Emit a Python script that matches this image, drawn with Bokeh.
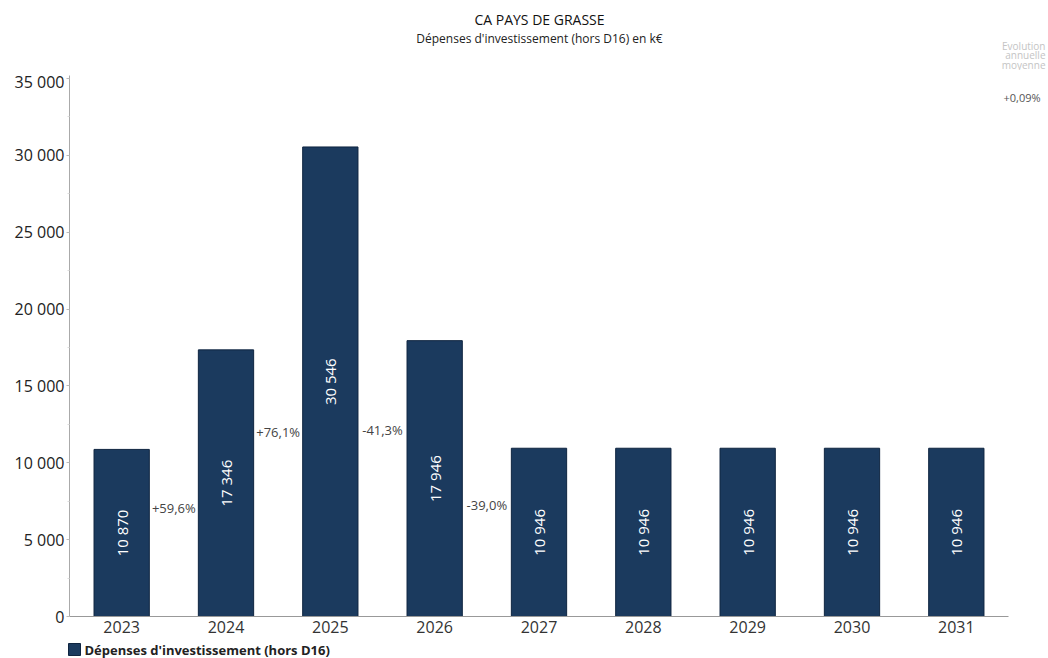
import math
from bokeh.plotting import figure
from bokeh.layouts import column
from bokeh.models import ColumnDataSource, FactorRange, Range1d, FixedTicker, LinearAxis
from bokeh.core.properties import value
from bokeh.embed import file_html
from bokeh.resources import INLINE

years = ["2023", "2024", "2025", "2026", "2027", "2028", "2029", "2030", "2031"]
depenses = [10870, 17346, 30546, 17946, 10946, 10946, 10946, 10946, 10946]
# year-on-year evolution labels as printed between bars (empty = not shown)
evolutions = ["+59,6%", "+76,1%", "-41,3%", "-39,0%", "", "", "", ""]
y_ticks = [0, 5000, 10000, 15000, 20000, 25000, 30000, 35000]
series_name = "Dépenses d'investissement (hors D16)"
title_text = "CA PAYS DE GRASSE"
subtitle_text = "Dépenses d'investissement (hors D16) en k€"
cagr_caption = ["Evolution", "annuelle", "moyenne"]

FONT = "Open Sans"
BAR = "#1b3a5e"
Y_END = 35195
W = 1048
HEAD_H = 70


def fr_int(v):
    return f"{int(round(v)):,}".replace(",", " ")


def fr_pct(v, nd):
    return f"{v:+.{nd}f}".replace(".", ",") + "%"


def strip(h, yr):
    f = figure(width=W, height=h, x_range=Range1d(0, W), y_range=yr,
               output_backend="svg", toolbar_location=None, title=None,
               x_axis_type=None, y_axis_type=None, min_border=0,
               min_border_left=0, min_border_right=0, min_border_top=0, min_border_bottom=0,
               frame_align=False)
    f.outline_line_color = None
    f.grid.visible = False
    return f


# ---------- header (titles + average evolution caption) ----------
hd = strip(HEAD_H, Range1d(HEAD_H, 0))
hd.text(x=[539], y=[19], text=[title_text], text_align="center", text_baseline="middle",
        text_font=value(FONT), text_font_size="14px", text_color="#111111")
hd.text(x=[539], y=[38], text=[subtitle_text], text_align="center", text_baseline="middle",
        text_font=value(FONT), text_font_size="12px", text_color="#222222")
hd.text(x=[1045] * 3, y=[45, 54.5, 64], text=cagr_caption, text_align="right",
        text_baseline="middle", text_font=value(FONT), text_font_size="10px",
        text_color="#c4c4c4")

# ---------- main chart ----------
p = figure(width=W, height=640 - HEAD_H, x_range=FactorRange(*years, range_padding=0),
           y_range=Range1d(0, Y_END), output_backend="svg", toolbar_location=None,
           title=None, frame_align=False,
           min_border_left=69, min_border_right=40, min_border_top=75 - HEAD_H,
           min_border_bottom=24)
p.outline_line_color = None
p.xgrid.visible = False
p.ygrid.visible = False

src = ColumnDataSource(dict(x=years, top=depenses, mid=[v / 2 for v in depenses],
                            lab=[fr_int(v) for v in depenses]))
p.vbar(x="x", top="top", width=0.53, source=src, fill_color=BAR, line_color="#0f2540",
       line_width=1)
p.text(x="x", y="mid", text="lab", source=src, angle=math.pi / 2, text_align="center",
       text_baseline="middle", text_color="white", text_font=value(FONT), text_font_size="15px")

px, py, pl = [], [], []
for i, lab in enumerate(evolutions):
    if lab:
        px.append(i + 1.0)
        py.append((depenses[i] + depenses[i + 1]) / 4)
        pl.append(lab)
psrc = ColumnDataSource(dict(x=px, y=py, t=pl))
p.text(x="x", y="y", text="t", source=psrc, text_align="center", text_baseline="middle",
       text_color="#444444", text_font=value(FONT), text_font_size="13px")

p.yaxis.ticker = FixedTicker(ticks=y_ticks, minor_ticks=[t + 2500 for t in y_ticks[:-1]])
p.yaxis.major_label_overrides = {t: fr_int(t) for t in y_ticks}
p.yaxis.axis_line_color = "#aaaaaa"
p.yaxis.major_tick_line_color = "#bbbbbb"
p.yaxis.minor_tick_line_color = "#dddddd"
p.yaxis.major_tick_in = 0
p.yaxis.major_tick_out = 3
p.yaxis.minor_tick_in = 0
p.yaxis.minor_tick_out = 2
p.yaxis.major_label_standoff = 2
p.yaxis.major_label_text_font = FONT
p.yaxis.major_label_text_font_size = "16px"
p.yaxis.major_label_text_color = "#222222"

p.xaxis.axis_line_color = "#999999"
p.xaxis.major_tick_line_color = None
p.xaxis.minor_tick_line_color = None
p.xaxis.major_tick_in = 0
p.xaxis.major_tick_out = 0
p.xaxis.major_label_standoff = 4
p.xaxis.major_label_text_font = FONT
p.xaxis.major_label_text_font_size = "16px"
p.xaxis.major_label_text_color = "#333333"

# average annual evolution value, shown on a bare right axis
n = len(depenses) - 1
cagr = ((depenses[-1] / depenses[0]) ** (1 / n) - 1) * 100
cagr_pos = Y_END * 0.96
cagr_axis = LinearAxis(ticker=FixedTicker(ticks=[cagr_pos], minor_ticks=[]),
                       major_label_overrides={cagr_pos: fr_pct(cagr, 2)},
                       axis_line_color=None, major_tick_line_color=None,
                       minor_tick_line_color=None, major_tick_in=0, major_tick_out=0,
                       major_label_standoff=-5, major_label_text_font=FONT,
                       major_label_text_font_size="11px", major_label_text_color="#555555")
p.add_layout(cagr_axis, "right")

# ---------- legend strip ----------
lg = strip(18, Range1d(18, 0))
lg.scatter(x=[74], y=[9], marker="square", size=12, fill_color=BAR, line_color="#0f2540")
lg.text(x=[84], y=[9], text=[series_name], text_baseline="middle", text_align="left",
        text_font=value(FONT), text_font_size="13px", text_font_style="bold",
        text_color="#222222")

open("out.html", "w").write(file_html(column(hd, p, lg, spacing=0), INLINE))
